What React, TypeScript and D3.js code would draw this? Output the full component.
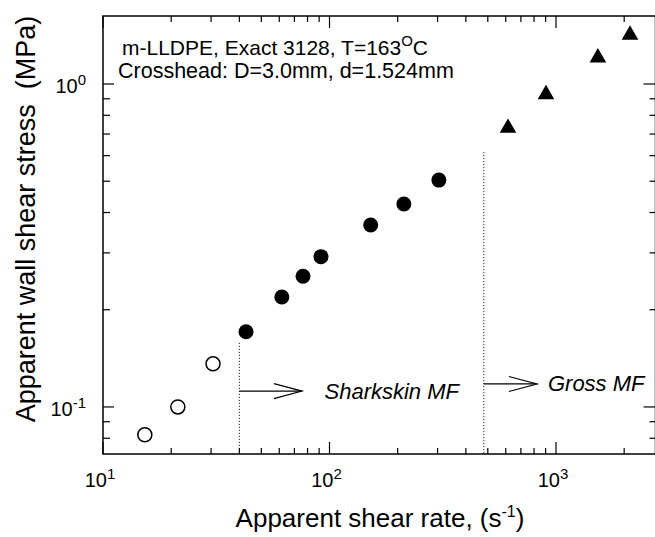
import React from "react";
import * as d3 from "d3";

// ---- data ----
const smoothRate = [15.3, 21.4, 30.6];
const smoothStress = [0.082, 0.1, 0.136];
const sharkRate = [42.8, 61.6, 76.4, 91.7, 152, 213, 304];
const sharkStress = [0.171, 0.219, 0.254, 0.292, 0.366, 0.425, 0.504];
const grossRate = [614, 903, 1531, 2122];
const grossStress = [0.736, 0.935, 1.215, 1.43];
const xMajorTicks = [10, 100, 1000];
const xTickExp = ["1", "2", "3"];
const yMajorTicks = [0.1, 1];
const yTickExp = ["-1", "0"];
const onsetRates = [40, 480];
const onsetTops = [0.158, 0.616];

const W = 655;
const H = 537;
const left = 103;
const right = 655.5;
const top = 16;
const bottom = 454;

export default function App() {
  const x = d3.scaleLog().domain([10, 2750]).range([left, right]);
  const y = d3.scaleLog().domain([0.0715, 1.624]).range([bottom, top]);

  const xMinor: number[] = [];
  for (const dec of [10, 100, 1000]) for (let k = 2; k <= 9; k++) {
    const v = dec * k;
    if (x(v) <= right) xMinor.push(v);
  }
  const yMinor: number[] = [];
  for (const dec of [0.01, 0.1, 1]) for (let k = 2; k <= 9; k++) {
    const v = dec * k;
    if (v >= 0.0715 && v <= 1.624) yMinor.push(v);
  }

  const font = "'Liberation Sans', Arial, sans-serif";
  const tri = d3.symbol().type(d3.symbolTriangle).size(120);

  const arrow = (x0: number, x1: number, yy: number) => (
    <g stroke="#000" strokeWidth={1.2} fill="none">
      <line x1={x0} x2={x1} y1={yy} y2={yy} />
      <polyline points={`${x1 - 28},${yy - 7.5} ${x1},${yy} ${x1 - 28},${yy + 7.5}`} />
    </g>
  );

  return (
    <div style={{ position: "fixed", left: 0, top: 0 }}>
      <svg width={W} height={H} style={{ display: "block", background: "#fff" }} fontFamily={font}>
        {/* frame */}
        <rect x={left} y={top} width={right - left} height={bottom - top} fill="none" stroke="#000" strokeWidth={1.5} />
        {/* x ticks */}
        {xMajorTicks.map((v) => (
          <g key={"xM" + v}>
            <line x1={x(v)} x2={x(v)} y1={bottom} y2={bottom - 12} stroke="#000" strokeWidth={1.2} />
            <line x1={x(v)} x2={x(v)} y1={top} y2={top + 12} stroke="#000" strokeWidth={1.2} />
          </g>
        ))}
        {xMinor.map((v) => (
          <g key={"xm" + v}>
            <line x1={x(v)} x2={x(v)} y1={bottom} y2={bottom - 6} stroke="#000" strokeWidth={1.2} />
            <line x1={x(v)} x2={x(v)} y1={top} y2={top + 6} stroke="#000" strokeWidth={1.2} />
          </g>
        ))}
        {/* y ticks */}
        {yMajorTicks.map((v) => (
          <g key={"yM" + v}>
            <line x1={left} x2={left + 11} y1={y(v)} y2={y(v)} stroke="#000" strokeWidth={1.2} />
            <line x1={right} x2={right - 12} y1={y(v)} y2={y(v)} stroke="#000" strokeWidth={1.2} />
          </g>
        ))}
        {yMinor.map((v) => (
          <g key={"ym" + v}>
            <line x1={left} x2={left + 7} y1={y(v)} y2={y(v)} stroke="#000" strokeWidth={1.2} />
            <line x1={right} x2={right - 6} y1={y(v)} y2={y(v)} stroke="#000" strokeWidth={1.2} />
          </g>
        ))}
        {/* tick labels */}
        {xMajorTicks.map((v, i) => (
          <text key={"xl" + v} x={x(v) - 3} y={487} textAnchor="middle" fontSize={20}>
            10<tspan dy={-8} fontSize={15}>{xTickExp[i]}</tspan>
          </text>
        ))}
        {yMajorTicks.map((v, i) => (
          <text key={"yl" + v} x={86} y={y(v) + 9} textAnchor="end" fontSize={20}>
            10<tspan dy={-8} fontSize={15}>{yTickExp[i]}</tspan>
          </text>
        ))}
        {/* axis titles */}
        <text x={380} y={527} textAnchor="middle" fontSize={26}>
          Apparent shear rate, (s<tspan dy={-10} fontSize={16}>-1</tspan><tspan dy={10}>)</tspan>
        </text>
        <text transform={`translate(35,219) rotate(-90)`} textAnchor="middle" fontSize={27} style={{ whiteSpace: "pre" }}>
          {"Apparent wall shear stress  (MPa)"}
        </text>
        {/* header text */}
        <text x={122} y={55} fontSize={21}>
          m-LLDPE, Exact 3128, T=163<tspan dy={-9} fontSize={15}>O</tspan><tspan dy={9}>C</tspan>
        </text>
        <text x={118} y={78} fontSize={21.5}>Crosshead: D=3.0mm, d=1.524mm</text>
        {/* onset dotted lines */}
        {onsetRates.map((r, i) => (
          <line key={"on" + r} x1={x(r)} x2={x(r)} y1={y(onsetTops[i])} y2={bottom} stroke="#222" strokeWidth={1} strokeDasharray="1.2,1.8" />
        ))}
        {/* arrows and labels */}
        {arrow(x(onsetRates[0]), x(75.6), y(0.112))}
        <text x={x(76) + 22} y={y(0.112) + 8} fontSize={22} fontStyle="italic">Sharkskin MF</text>
        {arrow(x(onsetRates[1]), x(824), y(0.1178))}
        <text x={x(824) + 11} y={y(0.1178) + 7} fontSize={22} fontStyle="italic">Gross MF</text>
        {/* data */}
        {smoothRate.map((r, i) => (
          <circle key={"s" + i} cx={x(r)} cy={y(smoothStress[i])} r={7} fill="#fff" stroke="#000" strokeWidth={1.5} />
        ))}
        {sharkRate.map((r, i) => (
          <circle key={"k" + i} cx={x(r)} cy={y(sharkStress[i])} r={7.5} fill="#000" />
        ))}
        {grossRate.map((r, i) => (
          <path key={"g" + i} d={tri() as string} transform={`translate(${x(r)},${y(grossStress[i]) + 1})`} fill="#000" />
        ))}
      </svg>
    </div>
  );
}
